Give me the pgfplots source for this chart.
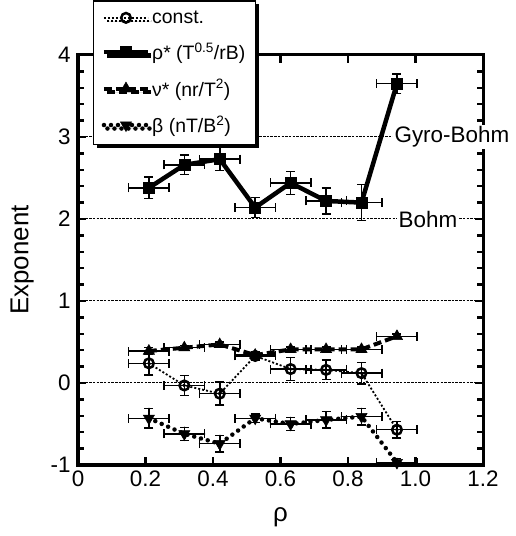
\documentclass[border=0pt]{standalone}
\usepackage{pgfplots}
\pgfplotsset{compat=1.18}
\usepackage{pgfplotstable}
\usepackage{fontspec}
\setmainfont{Liberation Sans}
\usetikzlibrary{shadows}

\pgfplotstableread{
x y ex ey
0.21 0.24 0.06 0.14
0.315 -0.03 0.06 0.12
0.42 -0.13 0.06 0.14
0.525 0.33 0.06 0.05
0.63 0.17 0.06 0.14
0.735 0.16 0.06 0.12
0.84 0.12 0.06 0.13
0.945 -0.57 0.06 0.10
}\constdata

\pgfplotstableread{
x y ex ey
0.21 2.38 0.06 0.13
0.315 2.66 0.06 0.12
0.42 2.73 0.06 0.14
0.525 2.14 0.06 0.12
0.63 2.44 0.06 0.14
0.735 2.22 0.06 0.16
0.84 2.20 0.06 0.22
0.945 3.65 0.06 0.12
}\rhodata

\pgfplotstableread{
x y ex ey
0.21 0.39 0.06 0.04
0.315 0.43 0.06 0.03
0.42 0.47 0.06 0.03
0.525 0.34 0.06 0.04
0.63 0.41 0.06 0.03
0.735 0.41 0.06 0.03
0.84 0.41 0.06 0.03
0.945 0.57 0.06 0.03
}\nudata

\pgfplotstableread{
x y ex ey
0.21 -0.43 0.06 0.12
0.315 -0.62 0.06 0.08
0.42 -0.74 0.06 0.10
0.525 -0.43 0.06 0.05
0.63 -0.50 0.06 0.08
0.735 -0.45 0.06 0.10
0.84 -0.41 0.06 0.10
0.945 -0.97 0.06 0.05
}\betadata

\begin{document}
\begin{tikzpicture}
\path[use as bounding box] (0,0) rectangle (516bp,536bp);
\begin{axis}[
  at={(78bp,71bp)}, anchor=south west,
  scale only axis, width=405bp, height=410bp,
  xmin=0, xmax=1.2, ymin=-1, ymax=4,
  xtick={0,0.2,0.4,0.6,0.8,1.0,1.2},
  xticklabels={0,0.2,0.4,0.6,0.8,1.0,1.2},
  ytick={-1,0,1,2,3,4},
  yticklabels={-1,0,1,2,3,4},
  minor y tick num=4,
  tick align=inside,
  tick pos=both,
  major tick length=8bp, minor tick length=6bp,
  every tick/.style={line width=2.5bp, black},
  axis line style={line width=3bp},
  tick label style={font=\fontsize{22.5}{26}\selectfont},
  yticklabel style={xshift=-4bp},
  xticklabel style={yshift=-2bp},
  xlabel={ρ}, ylabel={Exponent},
  label style={font=\fontsize{26}{30}\selectfont},
  xlabel style={at={(axis description cs:0.5,-0.137)}, anchor=base},
  ylabel style={at={(axis description cs:-0.138,0.5)}, anchor=center},
  clip=false,
  legend cell align=left,
  legend style={at={(0.037,1.134)}, anchor=north west,
    font=\fontsize{19.5}{22}\selectfont, draw=black, line width=1.5bp, fill=white,
    drop shadow={shadow xshift=3.5bp, shadow yshift=-3.5bp, fill=black, opacity=1},
    row sep=14bp, inner xsep=8bp, inner ysep=8bp},
  legend image code/.code={\draw[mark repeat=2,mark phase=2,#1] plot coordinates {(0bp,0bp) (22bp,0bp) (44bp,0bp)};},
  error bars/error bar style={line width=1.5bp, black, solid},
  error bars/error mark options={rotate=90, mark size=4.5bp, line width=1.5bp, solid, black},
]
% reference lines
\addplot[forget plot, black, line width=1bp, dash pattern=on 2.5bp off 1.2bp] coordinates {(0,-1) (1.2,-1)};
\addplot[forget plot, black, line width=1bp, dash pattern=on 2.5bp off 1.2bp] coordinates {(0,0) (1.2,0)};
\addplot[forget plot, black, line width=1bp, dash pattern=on 2.5bp off 1.2bp] coordinates {(0,1) (1.2,1)};
\addplot[forget plot, black, line width=1bp, dash pattern=on 2.5bp off 1.2bp] coordinates {(0,2) (1.2,2)};
\addplot[forget plot, black, line width=1bp, dash pattern=on 2.5bp off 1.2bp] coordinates {(0,3) (1.2,3)};
\addplot[forget plot, black, line width=1bp, dash pattern=on 2.5bp off 1.2bp] coordinates {(0,4) (1.2,4)};

\addplot[black, line width=1.8bp, dash pattern=on 2bp off 2bp, mark=o, mark size=4.8bp,
  mark options={solid, line width=2.5bp, fill=white},
  error bars/.cd, x dir=both, x explicit, y dir=both, y explicit]
  table[x=x, y=y, x error=ex, y error=ey] {\constdata};
\addplot[black, line width=4.5bp, mark=square*, mark size=5.5bp, mark options={solid, line width=0.5bp},
  error bars/.cd, x dir=both, x explicit, y dir=both, y explicit]
  table[x=x, y=y, x error=ex, y error=ey] {\rhodata};
\addplot[black, line width=4bp, dash pattern=on 8bp off 4bp, mark=triangle*, mark size=6.5bp, mark options={solid, line width=0.5bp},
  error bars/.cd, x dir=both, x explicit, y dir=both, y explicit]
  table[x=x, y=y, x error=ex, y error=ey] {\nudata};
\addplot[black, line width=4.5bp, dash pattern=on 0bp off 7bp, line cap=round, mark=triangle*, mark size=6.5bp,
  mark options={solid, rotate=180, line width=0.5bp},
  error bars/.cd, x dir=both, x explicit, y dir=both, y explicit]
  table[x=x, y=y, x error=ex, y error=ey] {\betadata};
\addplot[forget plot, only marks, black, mark=*, mark size=1.6bp] table[x=x, y=y] {\constdata};

\legend{const., ρ* (T\textsuperscript{0.5}/rB), ν* (nr/T\textsuperscript{2}), β (nT/B\textsuperscript{2})}

\node[fill=white, inner sep=1.5bp, anchor=west, font=\fontsize{22.5}{26}\selectfont] at (axis cs:0.933,3) {Gyro-Bohm};
\node[fill=white, inner sep=1.5bp, anchor=west, font=\fontsize{22.5}{26}\selectfont] at (axis cs:0.945,2) {Bohm};
\end{axis}
\end{tikzpicture}
\end{document}
